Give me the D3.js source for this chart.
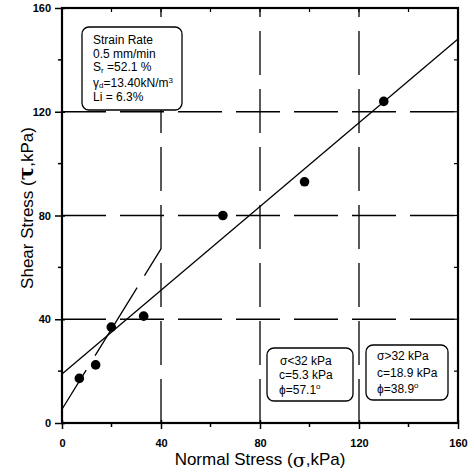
<!DOCTYPE html>
<html>
<head>
<meta charset="utf-8">
<script src="https://cdn.jsdelivr.net/npm/d3@7"></script>
<style>
  body { margin: 0; background: #fff; }
  text { font-family: Arial, "Liberation Sans", sans-serif; fill: #000; }
</style>
</head>
<body>
<div id="chart"></div>
<script>

// measured points
let sigma = [7, 13.6, 19.9, 33, 65, 98, 130],
	tau   = [17.2, 22.4, 37, 41.2, 80, 93, 124];

// failure envelopes (c in kPa, phi in deg, valid range of sigma)
let fitLow  = { c: 5.3,  phi: 57.1, from: 0, to: 40 },
	fitHigh = { c: 18.9, phi: 38.9, from: 0, to: 160 };

let majorTicks = [0, 40, 80, 120, 160],
	minorTicks = [20, 60, 100, 140];

let infoLines = ["Strain Rate", "0.5 mm/min", "Sr", "γd", "Li = 6.3%"];

function draw () {

	let width  = 474,
		height = 475,
		left   = 62,
		right  = 458,
		top    = 8,
		bottom = 423;

	let svg = d3.select("#chart")
		.append("svg")
			.attr("width", width)
			.attr("height", height);

	let xScale = d3.scaleLinear().domain([0, 160]).range([left, right]);
	let yScale = d3.scaleLinear().domain([0, 160]).range([bottom, top]);

	// dashed grid
	let gridVals = [40, 80, 120];

	svg.selectAll(".hgrid")
		.data(gridVals)
		.enter()
			.append("line")
				.attr("x1", xScale(0))
				.attr("x2", xScale(160))
				.attr("y1", d => yScale(d))
				.attr("y2", d => yScale(d))
				.attr("stroke", "#000")
				.attr("stroke-width", 1.3)
				.attr("stroke-dasharray", "44,14");

	svg.selectAll(".vgrid")
		.data(gridVals)
		.enter()
			.append("line")
				.attr("x1", d => xScale(d))
				.attr("x2", d => xScale(d))
				.attr("y1", yScale(0))
				.attr("y2", yScale(160))
				.attr("stroke", "#000")
				.attr("stroke-width", 1.3)
				.attr("stroke-dasharray", "44,14");

	// axes
	let xAxis = d3.axisBottom(xScale).tickValues(majorTicks).tickSize(6).tickPadding(10);
	let yAxis = d3.axisLeft(yScale).tickValues(majorTicks).tickSize(7).tickPadding(4);

	let gx = svg.append("g")
		.attr("transform", "translate(0," + bottom + ")")
		.call(xAxis);

	let gy = svg.append("g")
		.attr("transform", "translate(" + left + ",0)")
		.call(yAxis);

	[gx, gy].forEach(function (g) {
		g.select(".domain").remove();
		g.selectAll("line").attr("stroke", "#000").attr("stroke-width", 1.5);
		g.selectAll("text")
			.style("font-size", "11px")
			.style("font-weight", "bold")
			.style("font-family", "Arial, 'Liberation Sans', sans-serif");
	});
	gx.selectAll(".tick line").attr("y1", -3);
	gy.selectAll(".tick line").attr("x1", 3);

	// minor ticks
	svg.selectAll(".xminor")
		.data(minorTicks)
		.enter()
			.append("line")
				.attr("x1", d => xScale(d))
				.attr("x2", d => xScale(d))
				.attr("y1", bottom)
				.attr("y2", bottom + 4)
				.attr("stroke", "#000")
				.attr("stroke-width", 1.5);

	svg.selectAll(".yminor")
		.data(minorTicks)
		.enter()
			.append("line")
				.attr("x1", left - 4)
				.attr("x2", left)
				.attr("y1", d => yScale(d))
				.attr("y2", d => yScale(d))
				.attr("stroke", "#000")
				.attr("stroke-width", 1.5);

	// top/right ticks (inside)
	svg.selectAll(".tminor")
		.data(minorTicks.concat(gridVals))
		.enter()
			.append("line")
				.attr("x1", d => xScale(d))
				.attr("x2", d => xScale(d))
				.attr("y1", top)
				.attr("y2", top + 4)
				.attr("stroke", "#000")
				.attr("stroke-width", 1.2);

	svg.selectAll(".rminor")
		.data(minorTicks.concat(gridVals))
		.enter()
			.append("line")
				.attr("x1", right - 4)
				.attr("x2", right)
				.attr("y1", d => yScale(d))
				.attr("y2", d => yScale(d))
				.attr("stroke", "#000")
				.attr("stroke-width", 1.2);

	// frame
	svg.append("rect")
		.attr("x", left)
		.attr("y", top)
		.attr("width", right - left)
		.attr("height", bottom - top)
		.attr("fill", "none")
		.attr("stroke", "#000")
		.attr("stroke-width", 2.2);

	// envelopes
	let line = d3.line()
		.x(d => xScale(d[0]))
		.y(d => yScale(d[1]));

	function envelope (f) {
		let t = Math.tan(f.phi * Math.PI / 180);
		return [[f.from, f.c + t * f.from], [f.to, f.c + t * f.to]];
	}

	svg.append("path")
		.attr("d", line(envelope(fitHigh)))
		.attr("fill", "none")
		.attr("stroke", "#000")
		.attr("stroke-width", 1.3);

	svg.append("path")
		.attr("d", line(envelope(fitLow)))
		.attr("fill", "none")
		.attr("stroke", "#000")
		.attr("stroke-width", 1.3)
		.attr("stroke-dasharray", "46,17,80,14,60");

	// points
	svg.selectAll(".pt")
		.data(sigma)
		.enter()
			.append("circle")
				.attr("cx", d => xScale(d))
				.attr("cy", (d, i) => yScale(tau[i]))
				.attr("r", 4.8)
				.attr("fill", "#000");

	// axis titles
	let xt = svg.append("text")
		.attr("x", 260)
		.attr("y", 465)
		.attr("text-anchor", "middle")
		.style("font-size", "17px");
	xt.append("tspan").text("Normal Stress (");
	xt.append("tspan").text("σ").style("font-size", "19px").style("font-family", "DejaVu Serif, serif").attr("dy", 2);
	xt.append("tspan").text(",kPa)").attr("dy", -2);

	let yt = svg.append("text")
		.attr("transform", "translate(33,208) rotate(-90)")
		.attr("text-anchor", "middle")
		.style("font-size", "17px");
	yt.append("tspan").text("Shear Stress (");
	yt.append("tspan").text("τ").style("font-size", "20px").style("font-family", "DejaVu Serif, serif").style("font-weight", "bold");
	yt.append("tspan").text(",kPa)");

	// info boxes
	function box (x, y, w, h) {
		svg.append("rect")
			.attr("x", x).attr("y", y)
			.attr("width", w).attr("height", h)
			.attr("rx", 7)
			.attr("fill", "#fff")
			.attr("stroke", "#000")
			.attr("stroke-width", 1.3);
	}

	box(82, 27, 100, 83);
	let info = svg.append("g").style("font-size", "12px");
	let bl = [44, 58, 71, 87, 101];

	info.append("text").attr("x", 93).attr("y", bl[0]).text(infoLines[0]);
	info.append("text").attr("x", 93).attr("y", bl[1]).text(infoLines[1]);
	let sr = info.append("text").attr("x", 93).attr("y", bl[2]);
	sr.append("tspan").text("S");
	sr.append("tspan").text("r").attr("dy", 2).style("font-size", "8px");
	sr.append("tspan").text(" =52.1 %").attr("dy", -2);
	let gd = info.append("text").attr("x", 93).attr("y", bl[3]);
	gd.append("tspan").text("γ");
	gd.append("tspan").text("d").attr("dy", 1).style("font-size", "8px");
	gd.append("tspan").text("=13.40kN/m").attr("dy", -1);
	gd.append("tspan").text("3").attr("dy", -4).style("font-size", "8px");
	info.append("text").attr("x", 93).attr("y", bl[4]).text(infoLines[4]);

	box(267, 348, 86, 53);
	let b2 = svg.append("g").style("font-size", "12px");
	b2.append("text").attr("x", 280).attr("y", 365).text("σ<32 kPa");
	b2.append("text").attr("x", 279).attr("y", 379).text("c=" + fitLow.c + " kPa");
	let p2 = b2.append("text").attr("x", 279).attr("y", 394);
	p2.append("tspan").text("ϕ=" + fitLow.phi);
	p2.append("tspan").text("o").attr("dy", -5).style("font-size", "8px");

	box(366, 345, 82, 55);
	let b3 = svg.append("g").style("font-size", "12px");
	b3.append("text").attr("x", 377).attr("y", 360).text("σ>32 kPa");
	b3.append("text").attr("x", 377).attr("y", 377).text("c=" + fitHigh.c + " kPa");
	let p3 = b3.append("text").attr("x", 377).attr("y", 393);
	p3.append("tspan").text("ϕ=" + fitHigh.phi);
	p3.append("tspan").text("o").attr("dy", -5).style("font-size", "8px");
}

draw();
</script>
</body>
</html>
